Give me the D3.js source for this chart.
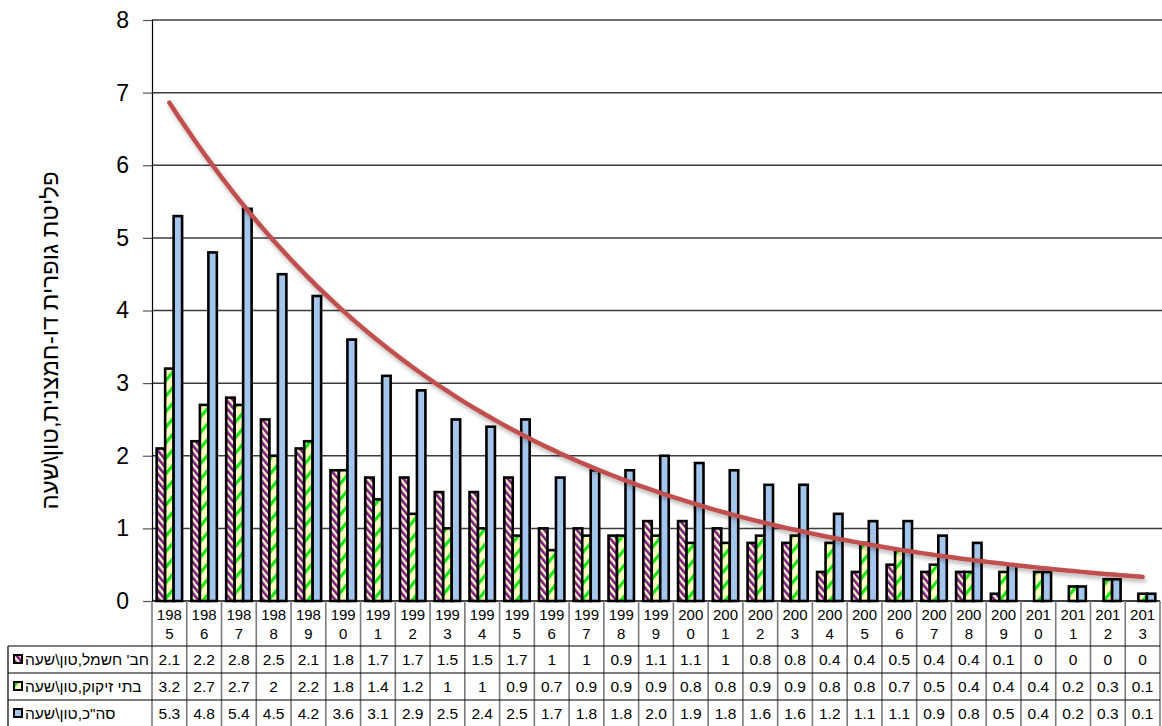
<!DOCTYPE html>
<html lang="he">
<head>
<meta charset="utf-8">
<script src="https://cdn.jsdelivr.net/npm/d3@7"></script>
<style>
  html, body { margin: 0; padding: 0; background: #fff; }
  svg { display: block; font-family: "Liberation Sans", Arial, "DejaVu Sans", sans-serif; }
</style>
</head>
<body>
<svg id="chart" width="1162" height="726"></svg>
<script>
// Sulphur dioxide emissions by source, tonnes per hour, 1985–2013
const years = ["1985","1986","1987","1988","1989","1990","1991","1992","1993","1994","1995","1996","1997","1998","1999","2000","2001","2002","2003","2004","2005","2006","2007","2008","2009","2010","2011","2012","2013"];
const powerCo = [2.1,2.2,2.8,2.5,2.1,1.8,1.7,1.7,1.5,1.5,1.7,1,1,0.9,1.1,1.1,1,0.8,0.8,0.4,0.4,0.5,0.4,0.4,0.1,0,0,0,0];
const refineries = [3.2,2.7,2.7,2,2.2,1.8,1.4,1.2,1,1,0.9,0.7,0.9,0.9,0.9,0.8,0.8,0.9,0.9,0.8,0.8,0.7,0.5,0.4,0.4,0.4,0.2,0.3,0.1];
const totals = [5.3,4.8,5.4,4.5,4.2,3.6,3.1,2.9,2.5,2.4,2.5,1.7,1.8,1.8,2.0,1.9,1.8,1.6,1.6,1.2,1.1,1.1,0.9,0.8,0.5,0.4,0.2,0.3,0.1];
const seriesNames = ["חב' חשמל,טון\\שעה", "בתי זיקוק,טון\\שעה", "סה\"כ,טון\\שעה"];
const yTicks = [0,1,2,3,4,5,6,7,8];
const yTitle = "פליטת גופרית דו-חמצנית,טון\\שעה";

const series = [
  { name: seriesNames[0], values: powerCo, fill: "url(#hatchPurple)", fmt: v => String(v) },
  { name: seriesNames[1], values: refineries, fill: "url(#hatchGreen)", fmt: v => String(v) },
  { name: seriesNames[2], values: totals, fill: "#a5c6ec", fmt: v => v.toFixed(1) }
];

const svg = d3.select("#chart");
const plot = { left: 152, right: 1160, top: 20, bottom: 601 };

const x = d3.scaleBand().domain(years).range([plot.left, plot.right]).paddingInner(0).paddingOuter(0);
const xs = d3.scaleBand().domain(d3.range(series.length)).range([0, x.bandwidth()]).paddingInner(0).paddingOuter(0.55);
const y = d3.scaleLinear().domain([0, 8]).range([plot.bottom, plot.top]);

// patterns and effects
const defs = svg.append("defs");
const pPurple = defs.append("pattern").attr("id", "hatchPurple").attr("patternUnits", "userSpaceOnUse")
  .attr("width", 5).attr("height", 5).attr("patternTransform", "rotate(-40)");
pPurple.append("rect").attr("width", 5).attr("height", 5).attr("fill", "#fff8c8");
pPurple.append("rect").attr("width", 2.6).attr("height", 5).attr("fill", "#7b1a80");

const pGreen = defs.append("pattern").attr("id", "hatchGreen").attr("patternUnits", "userSpaceOnUse")
  .attr("width", 10).attr("height", 10).attr("patternTransform", "rotate(40)");
pGreen.append("rect").attr("width", 10).attr("height", 10).attr("fill", "#ffffc2");
pGreen.append("rect").attr("width", 3.2).attr("height", 10).attr("fill", "#14e614");

const shadow = defs.append("filter").attr("id", "trendShadow").attr("x", "-5%").attr("y", "-5%").attr("width", "110%").attr("height", "120%");
shadow.append("feDropShadow").attr("dx", 1.5).attr("dy", 3).attr("stdDeviation", 2)
  .attr("flood-color", "#000").attr("flood-opacity", 0.3);

// horizontal gridlines
svg.append("g").selectAll("line").data(yTicks.filter(d => d > 0)).join("line")
  .attr("x1", plot.left).attr("x2", 1162)
  .attr("y1", d => y(d)).attr("y2", d => y(d))
  .attr("stroke", "#3c3c3c").attr("stroke-width", 1.5);

// y axis with ticks outside
const yAxis = svg.append("g").attr("transform", `translate(${plot.left},0)`)
  .call(d3.axisLeft(y).tickValues(yTicks).tickSize(9).tickPadding(14).tickFormat(d3.format("d")));
yAxis.select(".domain").attr("stroke", "#000").attr("stroke-width", 1.2);
yAxis.selectAll(".tick line").attr("stroke", "#555").attr("stroke-width", 1.2);
yAxis.selectAll(".tick text").attr("font-size", 23).attr("fill", "#000")
  .attr("font-family", "'Liberation Sans', Arial, sans-serif");

// axis title
svg.append("text")
  .attr("transform", `translate(52,${(plot.top + plot.bottom) / 2 + 30}) rotate(-90)`)
  .attr("text-anchor", "middle").attr("dominant-baseline", "middle")
  .attr("direction", "rtl")
  .attr("font-size", 24).attr("fill", "#000")
  .text(yTitle);

// bars
const barsG = svg.append("g");
series.forEach((s, si) => {
  barsG.append("g").selectAll("rect").data(s.values).join("rect")
    .attr("x", (d, i) => x(years[i]) + xs(si))
    .attr("width", xs.bandwidth())
    .attr("y", d => y(d))
    .attr("height", d => y(0) - y(d))
    .attr("fill", s.fill)
    .attr("stroke", "#000").attr("stroke-width", 2.6);
});

// baseline
svg.append("line").attr("x1", plot.left).attr("x2", plot.right)
  .attr("y1", y(0)).attr("y2", y(0)).attr("stroke", "#000").attr("stroke-width", 1.5);

// exponential trendline fitted to the totals (least squares on ln y)
const idx = d3.range(totals.length);
const lnY = totals.map(v => Math.log(v));
const mx = d3.mean(idx), my = d3.mean(lnY);
const slope = d3.sum(idx, i => (i - mx) * (lnY[i] - my)) / d3.sum(idx, i => (i - mx) ** 2);
const intercept = my - slope * mx;
const xi = d3.scaleLinear().domain([0, years.length - 1])
  .range([x(years[0]) + x.bandwidth() / 2, x(years[years.length - 1]) + x.bandwidth() / 2]);
const trendPts = d3.range(0, years.length - 1 + 0.001, 0.25).map(t => [xi(t), y(Math.exp(intercept + slope * t))]);
svg.append("path").datum(trendPts)
  .attr("d", d3.line().curve(d3.curveMonotoneX))
  .attr("fill", "none").attr("stroke", "#c0504d").attr("stroke-width", 4.5)
  .attr("stroke-linecap", "round")
  .attr("filter", "url(#trendShadow)");

// data table below the plot
const table = svg.append("g");
const headBottom = 646, rowH = 27;
const rowTops = series.map((s, i) => headBottom + i * rowH);

// column separators
table.selectAll("line.col").data(years.concat(["end"])).join("line")
  .attr("class", "col")
  .attr("x1", (d, i) => i < years.length ? x(d) : plot.right)
  .attr("x2", (d, i) => i < years.length ? x(d) : plot.right)
  .attr("y1", y(0)).attr("y2", 726)
  .attr("stroke", "#7a7a7a").attr("stroke-width", 1.6);
// row separators
table.selectAll("line.row").data(rowTops).join("line")
  .attr("class", "row")
  .attr("x1", 8).attr("x2", plot.right)
  .attr("y1", d => d).attr("y2", d => d)
  .attr("stroke", "#000").attr("stroke-width", 1.2);
table.append("line").attr("x1", 8).attr("x2", 8).attr("y1", headBottom).attr("y2", 726)
  .attr("stroke", "#000").attr("stroke-width", 1.2);

// year headers split over two lines
const yearCells = table.selectAll("g.year").data(years).join("g").attr("class", "year");
yearCells.append("text")
  .attr("x", d => x(d) + x.bandwidth() / 2).attr("y", 620)
  .attr("text-anchor", "middle").attr("font-size", 15).attr("fill", "#000")
  .text(d => d.slice(0, 3));
yearCells.append("text")
  .attr("x", d => x(d) + x.bandwidth() / 2).attr("y", 639)
  .attr("text-anchor", "middle").attr("font-size", 15).attr("fill", "#000")
  .text(d => d.slice(3));

// value rows with legend keys
series.forEach((s, si) => {
  const top = rowTops[si];
  const cy = top + rowH / 2;
  table.append("rect").attr("x", 14).attr("y", cy - 4.5).attr("width", 8).attr("height", 8)
    .attr("fill", s.fill).attr("stroke", "#000").attr("stroke-width", 2);
  table.append("text").attr("x", 25).attr("y", cy + 5.5)
    .attr("direction", "rtl").attr("text-anchor", "end")
    .attr("font-size", 15.5).attr("fill", "#000")
    .text(s.name);
  table.append("g").selectAll("text").data(s.values).join("text")
    .attr("x", (d, i) => x(years[i]) + x.bandwidth() / 2).attr("y", cy + 5.5)
    .attr("text-anchor", "middle").attr("font-size", 15.5).attr("fill", "#000")
    .text(d => s.fmt(d));
});
</script>
</body>
</html>
